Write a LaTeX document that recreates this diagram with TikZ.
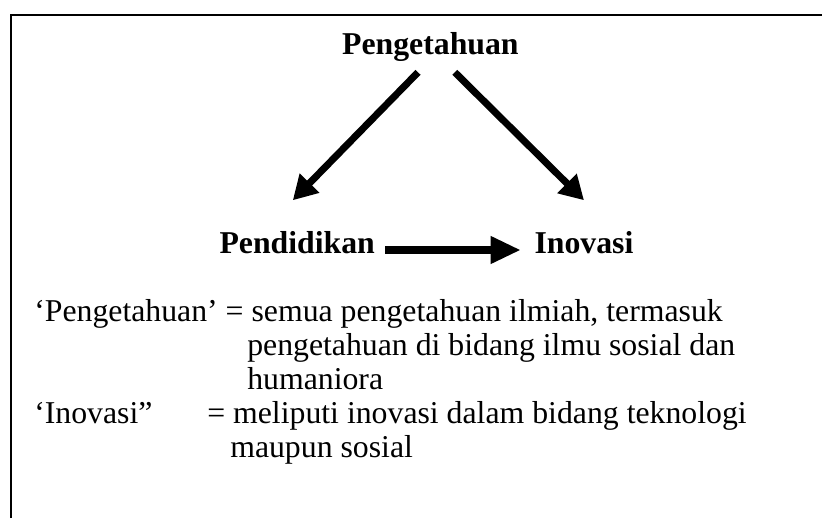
\documentclass[tikz,border=0pt]{standalone}
\usepackage{fontspec}
\setmainfont{Liberation Serif}
\usetikzlibrary{arrows.meta}
\begin{document}
\begin{tikzpicture}[
                word/.style = {font = \fontsize{22.6}{27}\selectfont\bfseries, inner sep = 0mm, anchor = base},
                txt/.style = {font = \fontsize{22.6}{27}\selectfont, inner sep = 0mm, anchor = base west},
                arr/.style = {draw, line width = 5pt, -{Triangle[length = 6mm, width = 6.5mm]}},
                longarr/.style = {arr, -{Triangle[length = 7.5mm, width = 6.5mm]}},
                frame/.style = {draw, line width = 1.4pt},
            ]
            \useasboundingbox (0, 0) rectangle (20.55, 12.95);
            \path[frame] (0.275, 0) -- (0.275, 12.575) -- (20.55, 12.575);

            \node (P) at (10.76, 11.575) [word] {Pengetahuan};
            \node (E) at (7.43, 6.625) [word] {Pendidikan};
            \node (I) at (14.6, 6.625) [word] {Inovasi};

            \path[arr] ([shift = {(-0.31, -0.25)}]P.south) -- ([shift = {(-0.11, 0.76)}]E.north);
            \path[arr] ([shift = {(0.61, -0.25)}]P.south) -- ([yshift = 7.6mm]I.north);
            \path[longarr] ([shift = {(0.25, 0.075)}]E.base east) -- ([shift = {(-0.34, 0.075)}]I.base west);

            \node (L1) at (0.85, 4.925) [txt] {‘Pengetahuan’ = semua pengetahuan ilmiah, termasuk};
            \node (L2) at (6.175, 4.075) [txt] {pengetahuan di bidang ilmu sosial dan};
            \node (L3) at (6.175, 3.225) [txt] {humaniora};
            \node (L4) at (0.85, 2.375) [txt] {‘Inovasi”};
            \node (L5) at (5.175, 2.375) [txt] {= meliputi inovasi dalam bidang teknologi};
            \node (L6) at (5.75, 1.525) [txt] {maupun sosial};
        \end{tikzpicture}
\end{document}
